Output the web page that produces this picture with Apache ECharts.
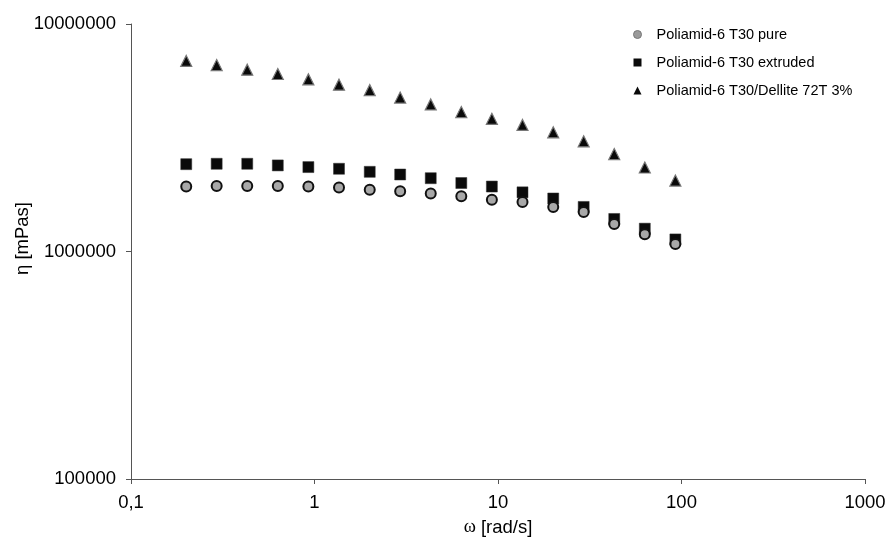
<!DOCTYPE html>
<html>
<head>
<meta charset="utf-8">
<script src="https://cdn.jsdelivr.net/npm/echarts@6/dist/echarts.min.js"></script>
<style>html,body{margin:0;padding:0;background:#fff}#c{width:892px;height:542px}</style>
</head>
<body>
<div id="c"></div>
<script>
const omega = [0.2, 0.293, 0.43, 0.631, 0.926, 1.36, 2.0, 2.93, 4.3, 6.31, 9.26, 13.6, 20.0, 29.3, 43.0, 63.1, 92.6];
const pure = [1.93e6, 1.94e6, 1.94e6, 1.94e6, 1.93e6, 1.91e6, 1.87e6, 1.84e6, 1.80e6, 1.75e6, 1.69e6, 1.65e6, 1.57e6, 1.49e6, 1.32e6, 1.19e6, 1.08e6];
const extruded = [2.42e6, 2.43e6, 2.43e6, 2.39e6, 2.35e6, 2.31e6, 2.24e6, 2.18e6, 2.10e6, 2.00e6, 1.93e6, 1.82e6, 1.71e6, 1.57e6, 1.39e6, 1.26e6, 1.13e6];
const dellite = [6.88e6, 6.60e6, 6.30e6, 6.03e6, 5.71e6, 5.41e6, 5.12e6, 4.75e6, 4.43e6, 4.10e6, 3.83e6, 3.60e6, 3.34e6, 3.05e6, 2.68e6, 2.34e6, 2.05e6];
const seriesNames = ['Poliamid-6 T30 pure', 'Poliamid-6 T30 extruded', 'Poliamid-6 T30/Dellite 72T 3%'];
const xTicks = ['0,1', '1', '10', '100', '1000'];

const pairs = ys => omega.map((x, i) => [x, ys[i]]);
const font = 'Liberation Sans, Arial, sans-serif';
const chart = echarts.init(document.getElementById('c'));
chart.setOption({
  animation: false,
  backgroundColor: '#fff',
  grid: { left: 131, right: 27, top: 24, bottom: 63, containLabel: false, outerBoundsMode: 'none' },
  legend: {
    orient: 'vertical', left: 628, top: 22, itemGap: 13, itemWidth: 8, itemHeight: 8,
    textStyle: { fontFamily: font, fontSize: 14.5, color: '#000', padding: [0, 0, 0, 10] },
    data: [
      { name: seriesNames[0], icon: 'circle', itemStyle: { color: '#9a9a9a', borderColor: '#777', borderWidth: 1 } },
      { name: seriesNames[1], icon: 'rect', itemStyle: { color: '#0a0a0a', borderWidth: 0 } },
      { name: seriesNames[2], icon: 'triangle', itemStyle: { color: '#0a0a0a', borderWidth: 0 } }
    ]
  },
  xAxis: {
    type: 'log', logBase: 10, min: 0.1, max: 1000,
    name: '{g|ω} [rad/s]', nameLocation: 'middle', nameGap: 39, nameMoveOverlap: false,
    nameTextStyle: { fontFamily: font, fontSize: 18.5, color: '#000',
      rich: { g: { fontFamily: 'Liberation Serif, Times New Roman, serif', fontSize: 18.5, color: '#000' } } },
    axisLine: { show: true, lineStyle: { color: '#555', width: 1 } },
    axisTick: { show: true, length: 5, inside: false, lineStyle: { color: '#555' } },
    minorTick: { show: false },
    splitLine: { show: false },
    axisLabel: { fontFamily: font, fontSize: 18.5, color: '#000', margin: 14,
      formatter: v => xTicks[Math.round(Math.log10(v)) + 1] }
  },
  yAxis: {
    type: 'log', logBase: 10, min: 100000, max: 10000000,
    name: 'η [mPas]', nameLocation: 'middle', nameGap: 99, nameRotate: 90, nameMoveOverlap: false,
    nameTextStyle: { fontFamily: font, fontSize: 18.5, color: '#000', padding: [0, 0, 0, 26] },
    axisLine: { show: true, lineStyle: { color: '#555', width: 1 } },
    axisTick: { show: true, length: 5, inside: false, lineStyle: { color: '#555' } },
    splitLine: { show: false },
    axisLabel: { fontFamily: font, fontSize: 18.5, color: '#000', margin: 15,
      formatter: v => String(Math.round(v)) }
  },
  series: [
    { name: seriesNames[0], type: 'scatter', symbol: 'circle', symbolSize: 10,
      itemStyle: { color: '#a8a8a8', borderColor: '#111', borderWidth: 2, opacity: 1 },
      data: pairs(pure), z: 3 },
    { name: seriesNames[1], type: 'scatter', symbol: 'rect', symbolSize: 11,
      itemStyle: { color: '#0a0a0a', borderColor: '#333', borderWidth: 0.5, opacity: 1 },
      data: pairs(extruded), z: 2 },
    { name: seriesNames[2], type: 'scatter', symbol: 'triangle', symbolSize: 11,
      itemStyle: { color: '#0a0a0a', borderColor: '#777', borderWidth: 1.2, opacity: 1 },
      data: pairs(dellite), z: 2 }
  ]
});
</script>
</body>
</html>
